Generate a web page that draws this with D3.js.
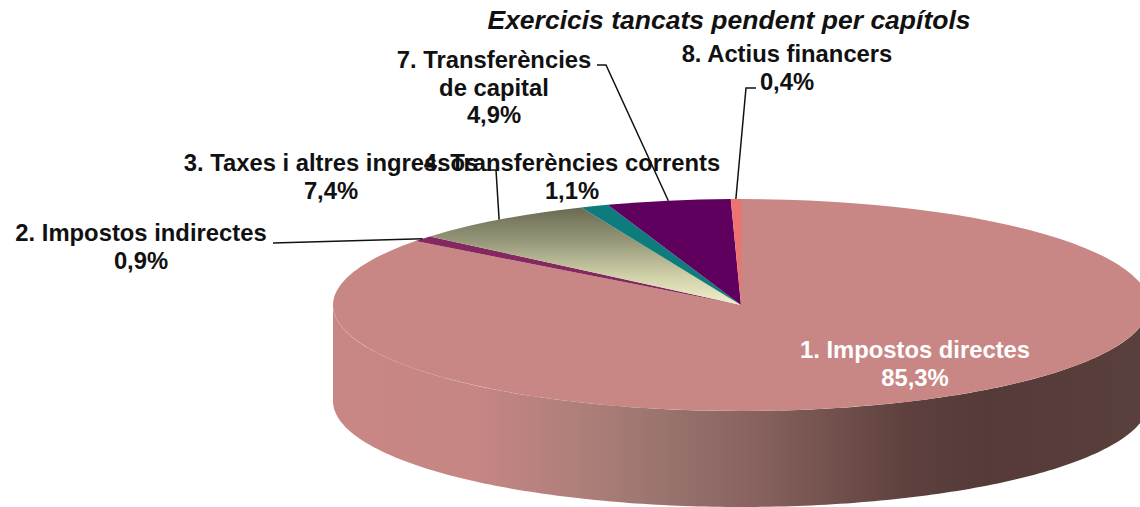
<!DOCTYPE html>
<html><head><meta charset="utf-8">
<script src="https://cdn.jsdelivr.net/npm/d3@7"></script>
<style>html,body{margin:0;padding:0;background:#fff}svg{display:block}
text{font-family:"Liberation Sans",Arial,sans-serif;font-weight:bold;text-anchor:middle;fill:#111}</style>
</head><body><svg id="c" width="1140" height="507"></svg>
<script>
const title = "Exercicis tancats pendent per capítols";
const categories = ["1. Impostos directes","2. Impostos indirectes","3. Taxes i altres ingressos","4. Transferències corrents","7. Transferències de capital","8. Actius financers"];
const values = [85.3,0.9,7.4,1.1,4.9,0.4];
const valueLabels = ["85,3%","0,9%","7,4%","1,1%","4,9%","0,4%"];
const fills = ["#c88785","#85285f","url(#g3)","#0e7c7c","#5f005f","#ee7370"];

const W=1140,H=507,cx=741,cy=305,rx=408,ry=106,depth=96,R=100;
const svg=d3.select("#c");
const defs=svg.append("defs");
const g3=defs.append("linearGradient").attr("id","g3").attr("x1",0).attr("y1",0).attr("x2",0).attr("y2",1);
[[0,"#6a6a52"],[0.35,"#97987a"],[0.7,"#cfd0a8"],[1,"#f0f0cc"]].forEach(s=>g3.append("stop").attr("offset",s[0]).attr("stop-color",s[1]));
const gw=defs.append("linearGradient").attr("id","gw").attr("gradientUnits","userSpaceOnUse").attr("x1",cx-rx).attr("x2",cx+rx).attr("y1",0).attr("y2",0);
[[0,"#c88785"],[0.17,"#c68684"],[0.3,"#af7f7a"],[0.42,"#97726d"],[0.53,"#85605c"],[0.7,"#5e413e"],[0.8,"#553a38"],[1,"#5a403d"]].forEach(s=>gw.append("stop").attr("offset",s[0]).attr("stop-color",s[1]));

const pie=d3.pie().sort(null).value(d=>d).startAngle(0).endAngle(2*Math.PI);
const arcs=pie(values);
const px=t=>cx+rx*Math.sin(t), py=t=>cy-ry*Math.cos(t);

const ts=d3.range(90,270.5,1).map(d=>d*Math.PI/180);
svg.append("path").attr("fill","url(#gw)")
  .attr("d",d3.area().x(px).y0(py).y1(t=>py(t)+depth)(ts));

const arc=d3.arc().innerRadius(0).outerRadius(R);
svg.append("g").attr("transform",`translate(${cx},${cy}) scale(${rx/R},${ry/R})`)
  .selectAll("path").data(arcs).join("path")
  .attr("d",arc).attr("fill",(d,i)=>fills[i]);

const lh=27.6;
const labels=[
 [0,915,358,["1. Impostos directes"]],
 [1,141,241,["2. Impostos indirectes"]],
 [2,331,171,["3. Taxes i altres ingressos"]],
 [3,572,171,["4. Transferències corrents"]],
 [4,494,68,["7. Transferències","de capital"]],
 [5,787,62,["8. Actius financers"]]
];
labels.forEach(([i,x,y,lines])=>{
  const t=svg.append("text").attr("font-size",23.8).style("fill",i===0?"#fff":"#111");
  lines.concat(valueLabels[i]).forEach((s,k)=>t.append("tspan").attr("x",x).attr("y",y+k*lh).text(s));
});

const mid=i=>{const a=arcs[i];return (a.startAngle+a.endAngle)/2;};
const leaders=[[1,[[273,243]]],[2,[[485,170],[496,170]]],[4,[[597,65],[606,65]]],[5,[[756,88],[746,88]]]];
const line=d3.line();
leaders.forEach(([i,pts])=>{
  svg.append("path").attr("fill","none").attr("stroke","#111").attr("stroke-width",1.5)
    .attr("d",line(pts.concat([[px(mid(i)),py(mid(i))]])));
});

svg.append("text").attr("x",729).attr("y",29).attr("font-size",26.5).style("font-style","italic").text(title);
</script></body></html>
